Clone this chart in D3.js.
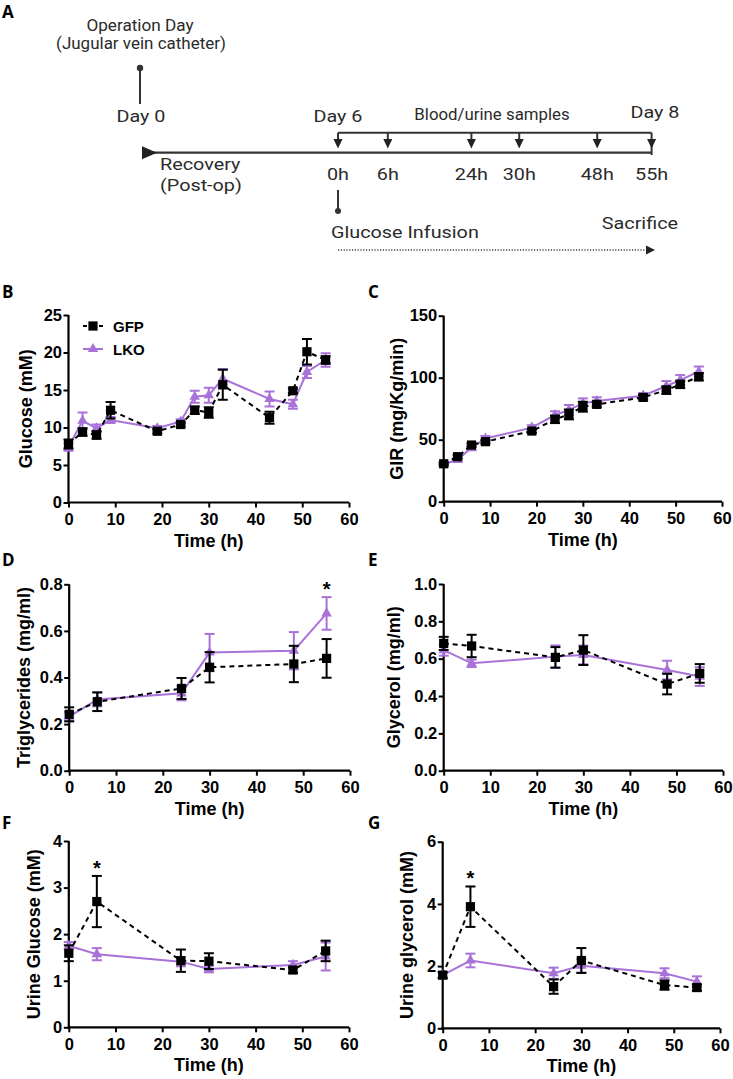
<!DOCTYPE html>
<html>
<head>
<meta charset="utf-8">
<script src="https://cdn.jsdelivr.net/npm/d3@7"></script>
<style>
  html, body { margin: 0; padding: 0; background: #fff; }
  svg { display: block; }
  .tl { font-family: Roboto, "Liberation Sans", sans-serif; font-size: 16.5px; fill: #2b2b2b; }
  .ax text { font-family: "Liberation Sans", Arial, sans-serif; font-weight: bold; font-size: 16.5px; fill: #000; }
  .title { font-family: "Liberation Sans", Arial, sans-serif; font-weight: bold; font-size: 18px; fill: #000; }
  .letter { font-family: "Open Sans", "Liberation Sans", sans-serif; font-weight: bold; font-size: 17px; fill: #000; }
</style>
</head>
<body>
<svg id="fig" width="733" height="1079"></svg>
<script>
// ---------------- DATA ----------------
const timesInfusion = [0, 3, 6, 9, 19, 24, 27, 30, 33, 43, 48, 51, 55];
const timesSamples = [0, 6, 24, 30, 48, 55];
const xTicks = [0, 10, 20, 30, 40, 50, 60];

// B: blood glucose (mM)
const glucoseGFP    = [7.8, 9.4, 9.0, 12.3, 9.5, 10.4, 12.3, 12.0, 15.7, 11.3, 14.9, 20.1, 19.0];
const glucoseGFPErr = [0.6, 0.5, 0.5, 1.1, 0.3, 0.3, 0.5, 0.7, 2.0, 0.8, 0.3, 1.7, 0.5];
const glucoseLKO    = [7.4, 10.9, 9.9, 11.0, 9.9, 10.8, 14.1, 14.3, 16.5, 13.8, 13.1, 17.4, 19.0];
const glucoseLKOErr = [0.5, 1.1, 0.5, 0.4, 0.3, 0.3, 0.8, 1.0, 1.3, 1.0, 0.6, 0.8, 0.9];
const glucoseTicks  = [0, 5, 10, 15, 20, 25];

// C: glucose infusion rate (mg/Kg/min)
const girGFP    = [30.6, 36.3, 45.7, 48.4, 57.0, 66.4, 70.4, 76.6, 78.5, 84.1, 90.0, 94.6, 100.8];
const girGFPErr = [1, 1.5, 1.5, 1.5, 1.5, 3, 4, 4, 2, 2, 3, 3, 3];
const girLKO    = [30, 34, 43.5, 51, 59.7, 69.9, 74, 79.3, 81.2, 85.5, 93.3, 98.1, 105];
const girLKOErr = [1, 2, 2, 2, 2, 3, 4, 4, 3, 2, 4, 4, 4];
const girTicks  = [0, 50, 100, 150];

// D: triglycerides (mg/ml)
const tgGFP    = [0.242, 0.296, 0.353, 0.444, 0.458, 0.482];
const tgGFPErr = [0.03, 0.04, 0.045, 0.065, 0.078, 0.083];
const tgLKO    = [0.232, 0.306, 0.332, 0.507, 0.515, 0.675];
const tgLKOErr = [0.02, 0.03, 0.03, 0.08, 0.08, 0.07];
const tgTicks  = [0, 0.2, 0.4, 0.6, 0.8];
const tgStars  = [55];

// E: glycerol (mg/ml)
const glyGFP    = [0.682, 0.668, 0.607, 0.646, 0.464, 0.521];
const glyGFPErr = [0.035, 0.06, 0.055, 0.08, 0.055, 0.05];
const glyLKO    = [0.646, 0.575, 0.611, 0.620, 0.539, 0.504];
const glyLKOErr = [0.03, 0.02, 0.06, 0.05, 0.05, 0.05];
const glyTicks  = [0, 0.2, 0.4, 0.6, 0.8, 1.0];

// F: urine glucose (mM)
const uGluGFP    = [1.59, 2.70, 1.43, 1.42, 1.23, 1.64];
const uGluGFPErr = [0.17, 0.55, 0.24, 0.17, 0.06, 0.22];
const uGluLKO    = [1.75, 1.57, 1.41, 1.25, 1.34, 1.52];
const uGluLKOErr = [0.08, 0.13, 0.10, 0.07, 0.08, 0.30];
const uGluTicks  = [0, 1, 2, 3, 4];
const uGluStars  = [6];

// G: urine glycerol (mM)
const uGlyGFP    = [1.71, 3.91, 1.34, 2.18, 1.39, 1.31];
const uGlyGFPErr = [0.10, 0.65, 0.23, 0.40, 0.15, 0.10];
const uGlyLKO    = [1.71, 2.18, 1.77, 2.01, 1.77, 1.50];
const uGlyLKOErr = [0.08, 0.22, 0.18, 0.22, 0.16, 0.17];
const uGlyTicks  = [0, 2, 4, 6];
const uGlyStars  = [6];

// Panel A schematic
const sampleLabels = ["0h", "6h", "24h", "30h", "48h", "55h"];

// ---------------- STYLE ----------------
const PURPLE = "#a872d8";
const svg = d3.select("#fig");
svg.append("rect").attr("width", 733).attr("height", 1079).attr("fill", "#fff");

// ---------------- PANEL A ----------------
const A = svg.append("g");
A.append("text").attr("class", "letter").attr("x", 2).attr("y", 18).text("A");
const tlStroke = "#333";
// text helper: wide labels are drawn horizontally stretched like the reference
function tlText(x, y, str, anchor, sx) {
  A.append("text").attr("class", "tl").attr("text-anchor", anchor || "start")
    .attr("transform", `translate(${x},${y}) scale(${sx || 1},1)`).text(str);
}
const WIDE = 1.2;
// operation day
tlText(140, 31, "Operation Day", "middle", 1.04);
tlText(141, 49, "(Jugular vein catheter)", "middle", 1.03);
A.append("line").attr("x1", 140).attr("x2", 140).attr("y1", 68).attr("y2", 104).attr("stroke", tlStroke).attr("stroke-width", 2);
A.append("circle").attr("cx", 140).attr("cy", 68).attr("r", 3.2).attr("fill", tlStroke);
tlText(141, 122, "Day 0", "middle", WIDE);
// main line
const mainY = 152.7, startX = 143, endX = 651.6;
A.append("line").attr("x1", startX).attr("x2", endX).attr("y1", mainY).attr("y2", mainY).attr("stroke", tlStroke).attr("stroke-width", 2.2);
A.append("path").attr("d", `M142,${mainY-6.5} L157,${mainY} L142,${mainY+6.5} Z`).attr("fill", "#222");
tlText(160, 170, "Recovery", "start", WIDE);
tlText(160, 191, "(Post-op)", "start", WIDE);
// sampling bracket
const sampleX = [338, 387.8, 471.4, 519.2, 597.2, 651.6];
const brY = 132.7;
A.append("line").attr("x1", sampleX[0]).attr("x2", sampleX[5]).attr("y1", brY).attr("y2", brY).attr("stroke", tlStroke).attr("stroke-width", 2);
sampleX.forEach((sx, i) => {
  A.append("line").attr("x1", sx).attr("x2", sx).attr("y1", brY).attr("y2", i === 5 ? 155 : 140).attr("stroke", tlStroke).attr("stroke-width", 2);
  A.append("path").attr("d", `M${sx-4.5},${139} L${sx+4.5},${139} L${sx},${148.5} Z`).attr("fill", "#222");
  tlText(sx, 180, sampleLabels[i], "middle", WIDE);
});
tlText(338, 122, "Day 6", "middle", WIDE);
tlText(492, 120, "Blood/urine samples", "middle", 1.02);
tlText(655, 118, "Day 8", "middle", WIDE);
// glucose infusion
A.append("line").attr("x1", 338).attr("x2", 338).attr("y1", 190).attr("y2", 211).attr("stroke", tlStroke).attr("stroke-width", 2);
A.append("circle").attr("cx", 338).attr("cy", 211).attr("r", 3).attr("fill", tlStroke);
tlText(331, 238, "Glucose Infusion", "start", WIDE);
tlText(678, 229, "Sacrifice", "end", WIDE);
A.append("line").attr("x1", 338).attr("x2", 648).attr("y1", 250).attr("y2", 250).attr("stroke", "#444").attr("stroke-width", 1.6).attr("stroke-dasharray", "1.2,1.6");
A.append("path").attr("d", "M646,245.5 L655,250 L646,254.5 Z").attr("fill", "#222");

// ---------------- DATA PANELS ----------------
const panels = [
  { letter: "B", lx: 2, ly: 298, x0: 68.5, x1: 349, yTop: 315, yBot: 502.5, yMax: 25, ticks: glucoseTicks, fmt: d3.format("d"),
    title: "Glucose (mM)", titleX: 26, t: timesInfusion, gfp: glucoseGFP, gfpErr: glucoseGFPErr, lko: glucoseLKO, lkoErr: glucoseLKOErr, stars: [], legend: true },
  { letter: "C", lx: 368, ly: 298, x0: 443.7, x1: 722, yTop: 315.7, yBot: 501.7, yMax: 150, ticks: girTicks, fmt: d3.format("d"),
    title: "GIR (mg/Kg/min)", titleX: 397, t: timesInfusion, gfp: girGFP, gfpErr: girGFPErr, lko: girLKO, lkoErr: girLKOErr, stars: [] },
  { letter: "D", lx: 2, ly: 566, x0: 69.2, x1: 350, yTop: 584.3, yBot: 770.7, yMax: 0.8, ticks: tgTicks, fmt: d3.format(".1f"),
    title: "Triglycerides (mg/ml)", titleX: 24, t: timesSamples, gfp: tgGFP, gfpErr: tgGFPErr, lko: tgLKO, lkoErr: tgLKOErr, stars: tgStars },
  { letter: "E", lx: 368, ly: 566, x0: 443.7, x1: 723, yTop: 584, yBot: 770.7, yMax: 1.0, ticks: glyTicks, fmt: d3.format(".1f"),
    title: "Glycerol (mg/ml)", titleX: 394, t: timesSamples, gfp: glyGFP, gfpErr: glyGFPErr, lko: glyLKO, lkoErr: glyLKOErr, stars: [] },
  { letter: "F", lx: 2, ly: 829, x0: 68.8, x1: 349, yTop: 841, yBot: 1027.3, yMax: 4, ticks: uGluTicks, fmt: d3.format("d"),
    title: "Urine Glucose (mM)", titleX: 34, t: timesSamples, gfp: uGluGFP, gfpErr: uGluGFPErr, lko: uGluLKO, lkoErr: uGluLKOErr, stars: uGluStars },
  { letter: "G", lx: 368, ly: 829, x0: 442.7, x1: 720, yTop: 841.7, yBot: 1028.3, yMax: 6, ticks: uGlyTicks, fmt: d3.format("d"),
    title: "Urine glycerol (mM)", titleX: 407, t: timesSamples, gfp: uGlyGFP, gfpErr: uGlyGFPErr, lko: uGlyLKO, lkoErr: uGlyLKOErr, stars: uGlyStars }
];

const sqSym = d3.symbol().type(d3.symbolSquare).size(85);
const triSym = d3.symbol().type(d3.symbolTriangle).size(48);

panels.forEach(p => {
  const g = svg.append("g");
  g.append("text").attr("class", "letter").attr("x", p.lx).attr("y", p.ly).text(p.letter);
  const x = d3.scaleLinear().domain([0, 60]).range([p.x0, p.x1]);
  const y = d3.scaleLinear().domain([0, p.yMax]).range([p.yBot, p.yTop]);

  const xa = g.append("g").attr("class", "ax").attr("transform", `translate(0,${p.yBot})`)
    .call(d3.axisBottom(x).tickValues(xTicks).tickSize(5).tickSizeOuter(0).tickPadding(6).tickFormat(d3.format("d")));
  const ya = g.append("g").attr("class", "ax").attr("transform", `translate(${p.x0},0)`)
    .call(d3.axisLeft(y).tickValues(p.ticks).tickSize(5).tickSizeOuter(0).tickPadding(1.5).tickFormat(p.fmt));
  [xa, ya].forEach(a => {
    a.select(".domain").attr("stroke", "#000").attr("stroke-width", 2.2);
    a.selectAll(".tick line").attr("stroke", "#000").attr("stroke-width", 2);
  });
  xa.select(".domain").attr("d", `M${p.x0 - 1.1},0H${p.x1}`);
  ya.select(".domain").attr("d", `M0,${p.yBot + 1.1}V${p.yTop}`);

  g.append("text").attr("class", "title").attr("text-anchor", "middle")
    .attr("x", (p.x0 + p.x1) / 2).attr("y", p.yBot + 44).text("Time (h)");
  g.append("text").attr("class", "title").attr("text-anchor", "middle")
    .attr("transform", `translate(${p.titleX},${(p.yTop + p.yBot) / 2}) rotate(-90)`).attr("dy", "0.35em").text(p.title);

  const series = [
    { v: p.lko, e: p.lkoErr, color: PURPLE, dash: null, sym: triSym },
    { v: p.gfp, e: p.gfpErr, color: "#000", dash: "5,4", sym: sqSym }
  ];
  series.forEach(s => {
    const pts = p.t.map((t, i) => ({ t, v: s.v[i], e: s.e[i] }));
    const line = d3.line().x(d => x(d.t)).y(d => y(d.v));
    g.append("path").datum(pts).attr("d", line).attr("fill", "none").attr("stroke", s.color)
      .attr("stroke-width", 2).attr("stroke-dasharray", s.dash);
    const eb = g.append("g");
    pts.forEach(d => {
      const cx = x(d.t), yt = y(d.v + d.e), yb = y(d.v - d.e);
      eb.append("line").attr("x1", cx).attr("x2", cx).attr("y1", yt).attr("y2", yb).attr("stroke", s.color).attr("stroke-width", 2);
      eb.append("line").attr("x1", cx - 5).attr("x2", cx + 5).attr("y1", yt).attr("y2", yt).attr("stroke", s.color).attr("stroke-width", 2);
      eb.append("line").attr("x1", cx - 5).attr("x2", cx + 5).attr("y1", yb).attr("y2", yb).attr("stroke", s.color).attr("stroke-width", 2);
    });
    g.selectAll(null).data(pts).enter().append("path")
      .attr("d", s.sym).attr("transform", d => `translate(${x(d.t)},${y(d.v)})`).attr("fill", s.color);
  });

  p.stars.forEach(st => {
    const i = p.t.indexOf(st);
    const top = Math.max(p.gfp[i] + p.gfpErr[i], p.lko[i] + p.lkoErr[i]);
    g.append("text").attr("class", "title").attr("text-anchor", "middle").style("font-size", "20px")
      .attr("x", x(st)).attr("y", y(top) - 1).text("*");
  });

  if (p.legend) {
    const lg = g.append("g").attr("transform", "translate(83,326)");
    lg.append("line").attr("x1", 0).attr("x2", 20).attr("y1", 0).attr("y2", 0).attr("stroke", "#000").attr("stroke-width", 2).attr("stroke-dasharray", "4,4");
    lg.append("path").attr("d", sqSym).attr("transform", "translate(10,0)").attr("fill", "#000");
    lg.append("text").attr("class", "title").style("font-size", "15px").attr("x", 30).attr("y", 5.5).text("GFP");
    lg.append("line").attr("x1", 0).attr("x2", 20).attr("y1", 23).attr("y2", 23).attr("stroke", PURPLE).attr("stroke-width", 2);
    lg.append("path").attr("d", triSym).attr("transform", "translate(10,23)").attr("fill", PURPLE);
    lg.append("text").attr("class", "title").style("font-size", "15px").attr("x", 30).attr("y", 28.5).text("LKO");
  }
});
</script>
</body>
</html>
